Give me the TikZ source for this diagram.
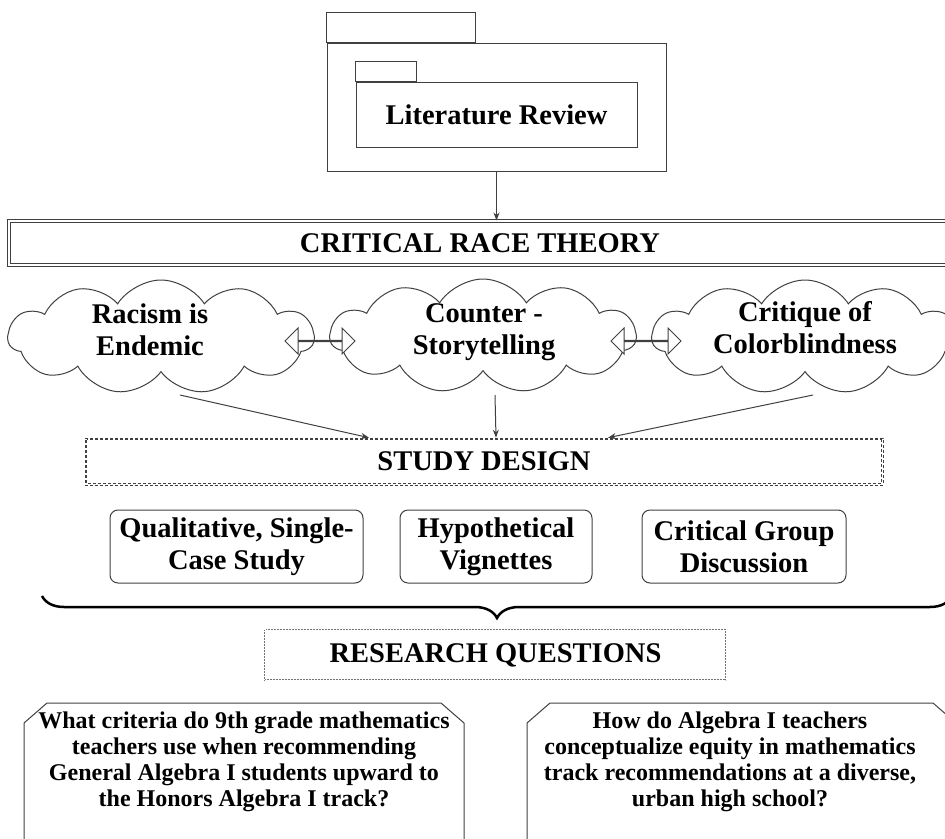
\documentclass[tikz,border=0pt]{standalone}
\usepackage{fontspec}
\setmainfont{Liberation Serif}
\usetikzlibrary{arrows.meta,shapes.symbols,shapes.arrows,decorations.pathreplacing,calc}

\begin{document}
\begin{tikzpicture}[x=1pt,y=-1pt,>={Stealth[length=8pt,width=6pt]},
  big/.style={font=\fontsize{28.5}{32}\selectfont\bfseries, align=center},
  small/.style={font=\fontsize{24}{26}\selectfont\bfseries, align=center},
  ln/.style={draw=black!75, line width=1pt},
  puff/.style={ln, cloud, cloud puffs=11, cloud puff arc=115, cloud ignores aspect, minimum width=306pt, minimum height=114pt},
  dbl/.style={ln, double arrow, fill=white, minimum height=70pt, minimum width=26pt, double arrow head extend=9pt, inner sep=0pt},
  rbox/.style={ln, rounded corners=8pt, big, inner sep=0pt, minimum height=73pt},
  dsh/.style={draw=black!75, line width=0.6pt, densely dashed}]
\useasboundingbox (0,0) rectangle (945,838);
\clip (0,0) rectangle (945,838);
% package at the top
\node[ln, minimum width=339pt, minimum height=128pt] (pkg) at (496.5,107) {};
\draw[ln] (pkg.north west) rectangle ++(149,-30);
\node[ln, big, minimum width=281pt, minimum height=65pt] (lit) at (496.5,114.5) {Literature Review};
\draw[ln] (lit.north west) rectangle ++(61,-20);
% theory
\node[ln, double, double distance=2pt, big, minimum width=942pt, minimum height=44pt] (crt) at (480,243) {CRITICAL RACE THEORY};
\draw[ln,->] (pkg.south) -- (pkg.south |- crt.north);
% clouds
\node[puff] (c1) at (161,337) {};
\node[puff] (c2) at (483,336) {};
\node[puff] (c3) at (805,337) {};
\node[big] (t1) at (150,330) {Racism is\\Endemic};
\node[big] (t2) at (484,332) {Counter -\\Storytelling};
\node[big] (t3) at (805,328) {Critique of\\Colorblindness};
\node[dbl] (d1) at (320,341) {};
\node[dbl] (d2) at (646,341) {};
% study design
\node[dsh, big, minimum width=798pt, minimum height=47pt] (sd) at (484,461.5) {STUDY DESIGN};
\draw[dsh] ([shift={(2,2)}]sd.north west) rectangle ([shift={(-2,-2)}]sd.south east);
\draw[ln,->] ($(c1.center)+(19,58)$) -- ([xshift=-115pt]sd.north);
\draw[ln,->] ($(c2.center)+(12,59)$) -- ([xshift=12pt]sd.north);
\draw[ln,->] ($(c3.center)+(8,58)$) -- ([xshift=124pt]sd.north);
\node[rbox, minimum width=253pt] (b1) at (236.5,546.5) {Qualitative, Single-\\Case Study};
\node[rbox, minimum width=192pt] (b2) at (496,546.5) {Hypothetical\\Vignettes};
\node[rbox, minimum width=204pt] (b3) at (744,546.5) {Critical Group\\Discussion};
% brace
\coordinate (bl) at (42,596);
\coordinate (br) at (952,596);
\draw[line width=2.5pt, decorate, decoration={brace, amplitude=22pt}] (br) -- (bl);
% research questions
\node[draw=black!55, densely dotted, double, double distance=1pt, line width=0.5pt, big, minimum width=461pt, minimum height=50pt] (rq) at (495.5,655) {RESEARCH QUESTIONS};
\node[small] (q1) at (244,762) {What criteria do 9th grade mathematics\\teachers use when recommending\\General Algebra I students upward to\\the Honors Algebra I track?};
\draw[ln] (24,860) -- (24,723) -- (47,703) -- (441,703) -- (464,723) -- (464,860);
\node[small] (q2) at (730,762) {How do Algebra I teachers\\conceptualize equity in mathematics\\track recommendations at a diverse,\\urban high school?};
\draw[ln] (527,860) -- (527,723) -- (550,703) -- (933,703) -- (956,723) -- (956,860);
\end{tikzpicture}
\end{document}
